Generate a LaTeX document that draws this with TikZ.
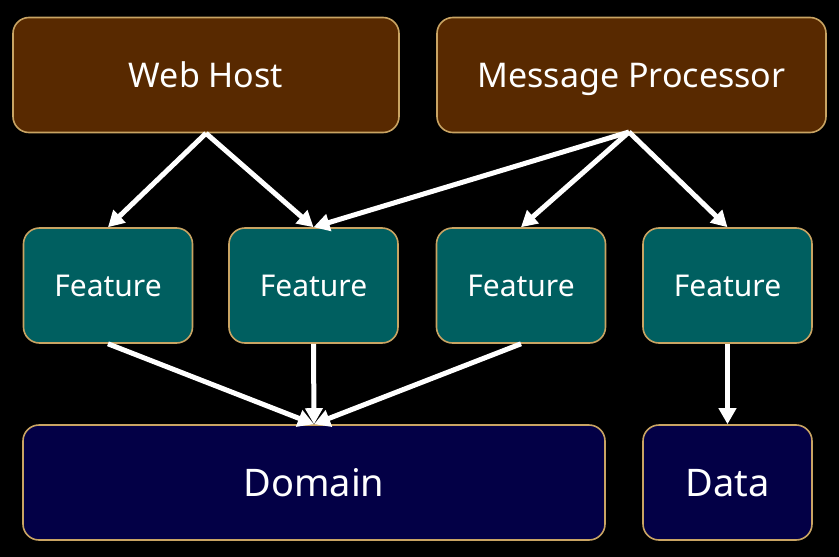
\documentclass[tikz,border=0pt]{standalone}
\usepackage{fontspec}
\setmainfont{Noto Sans}
\usetikzlibrary{arrows.meta}
\definecolor{hostfill}{HTML}{582900}
\definecolor{featfill}{HTML}{005F60}
\definecolor{domfill}{HTML}{030046}
\definecolor{edge}{HTML}{C9A463}
\tikzset{
  box/.style={draw=edge, line width=1.6pt, rounded corners=16pt, text=white, inner sep=0pt, align=center, text depth=0pt},
  hostbox/.style={box, fill=hostfill, minimum height=115pt, text height=24pt, font=\fontsize{34}{40}\selectfont},
  featbox/.style={box, fill=featfill, minimum width=169pt, minimum height=115pt, text height=21.4pt, font=\fontsize{30}{35}\selectfont},
  dombox/.style={box, fill=domfill, minimum height=115pt, text height=27pt, font=\fontsize{38}{45}\selectfont},
  link/.style={draw=white, line width=5pt, -{Triangle[length=16pt,width=17pt]}}
}
\begin{document}
\begin{tikzpicture}[x=1pt,y=-1pt]
\fill[black] (0,0) rectangle (839,557);
\useasboundingbox (0,0) rectangle (839,557);
\node[hostbox, minimum width=386pt] (wh) at (206,75) {Web Host};
\node[hostbox, minimum width=389pt] (mp) at (631.5,75) {Message Processor};
\node[featbox] (f1) at (108,285.5) {Feature};
\node[featbox] (f2) at (313.5,285.5) {Feature};
\node[featbox] (f3) at (521,285.5) {Feature};
\node[featbox] (f4) at (727.5,285.5) {Feature};
\node[dombox, minimum width=582pt] (dom) at (314,482.5) {Domain};
\node[dombox, minimum width=169pt] (data) at (727.5,482.5) {Data};
\coordinate (mps) at (629,132);
\draw[link] (wh.south) -- (f1.north);
\draw[link] (wh.south) -- (f2.north);
\draw[link] (mps) -- (f2.north);
\draw[link] (mps) -- (f3.north);
\draw[link] (mps) -- (f4.north);
\draw[link] (f1.south) -- (dom.north);
\draw[link] (f2.south) -- (dom.north);
\draw[link] (f3.south) -- (dom.north);
\draw[link] (f4.south) -- (data.north);
\end{tikzpicture}
\end{document}
